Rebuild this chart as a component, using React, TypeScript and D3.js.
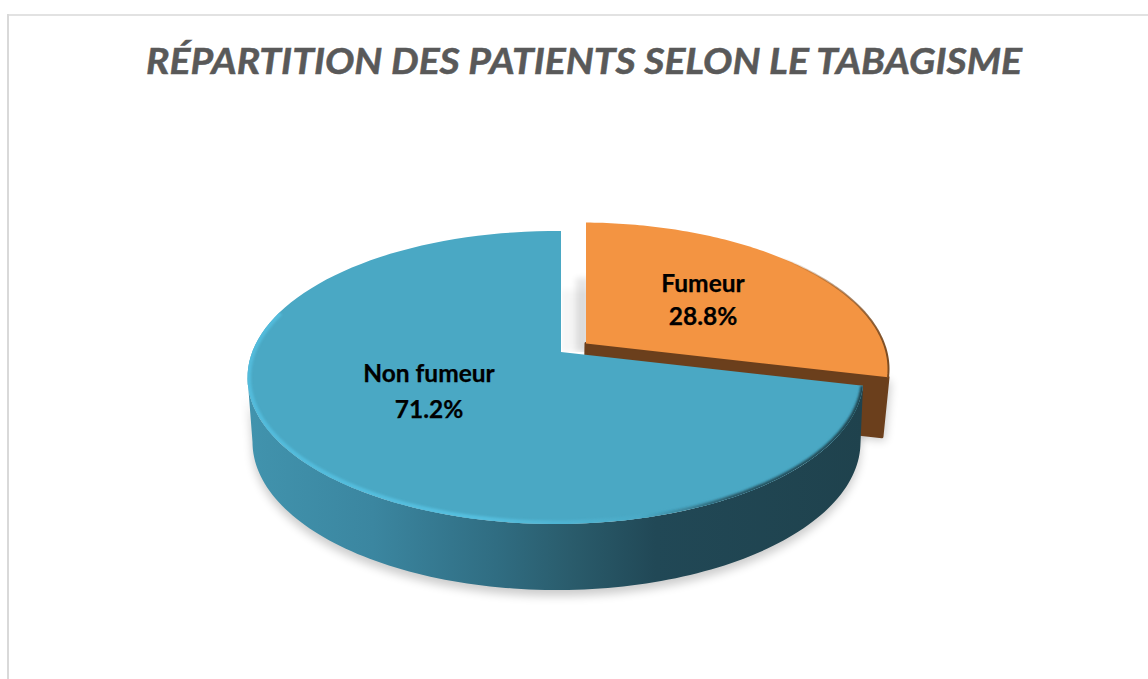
import React from "react";
import * as d3 from "d3";

const categories = ["Fumeur", "Non fumeur"];
const values = [28.8, 71.2];
const titleText = "RÉPARTITION DES PATIENTS SELON LE TABAGISME";
const FONT = "Lato, 'Open Sans', sans-serif";

type Disc = { ax: number; ay: number; cx: number; cy: number; a: number; b: number };
const topDisc: Disc = { ax: 561, ay: 352, cx: 555.5, cy: 377.5, a: 308, b: 146.5 };
const bottomDisc: Disc = { ax: 560, ay: 412, cx: 556.5, cy: 442, a: 304, b: 148 };
const shift = { x: 25, y: -8.5 };
const moved = (d: Disc, ex = 0): Disc => ({ ...d, ax: d.ax + shift.x, ay: d.ay + shift.y, cx: d.cx + shift.x + ex, cy: d.cy + shift.y });

const FLAT = 0.46;
function phiOf(t: number, d: Disc) {
  const dx = Math.sin(t);
  const dy = -Math.cos(t) * FLAT;
  const px = (d.ax - d.cx) / d.a, py = (d.ay - d.cy) / d.b;
  const ux = dx / d.a, uy = dy / d.b;
  const A = ux * ux + uy * uy, B = 2 * (px * ux + py * uy), C = px * px + py * py - 1;
  const s = (-B + Math.sqrt(B * B - 4 * A * C)) / (2 * A);
  const x = px + s * ux, y = py + s * uy;
  let p = Math.atan2(x, -y);
  if (p < -1e-6) p += 2 * Math.PI;
  return p;
}
const at = (phi: number, d: Disc): [number, number] => [d.cx + d.a * Math.sin(phi), d.cy - d.b * Math.cos(phi)];
const rim = (p0: number, p1: number, d: Disc) => d3.range(0, 121).map((i) => at(p0 + ((p1 - p0) * i) / 120, d));
const line = d3.line();

const arcs = d3.pie<number>().sort(null)(values);
const fum = arcs[0];
const non = arcs[1];

// blue slice
const bP0 = phiOf(non.startAngle, topDisc);
const bP1 = phiOf(non.endAngle, topDisc) + 2 * Math.PI;
const blueRim = rim(bP0, bP1, topDisc);
const blueTop = line([[topDisc.ax, topDisc.ay], ...blueRim]) + "Z";
const LEFT = 1.5 * Math.PI;
const bB0 = phiOf(non.startAngle, bottomDisc);
const blueWall = line([...rim(bP0, LEFT, topDisc), ...rim(bB0, LEFT, bottomDisc).reverse()]) + "Z";
const blueEdge = line(blueRim.filter((_, i) => i < 92));

// orange slice
const oT = moved(topDisc), oB = moved(bottomDisc, -3.5);
const oP1 = phiOf(fum.endAngle, oT);
const oStart = phiOf(fum.startAngle, oT);
const orangeTop = line([[oT.ax, oT.ay], ...rim(oStart, oP1, oT)]) + "Z";
const oCorner = at(oP1, oT);
const oCornerB = at(phiOf(fum.endAngle, oB), oB);
const orangeWall = line([[oT.ax, oT.ay], oCorner, oCornerB, [oB.ax, oB.ay]]) + "Z";
const orangeEdge = line(rim(oStart, oP1, oT));

export default function App() {
  return (
    <svg width={1148} height={679} style={{ position: "absolute", left: 0, top: 0, display: "block", background: "#fff" }}>
      <defs>
        <linearGradient id="wall" gradientUnits="userSpaceOnUse" x1={250} x2={865} y1={0} y2={0}>
          <stop offset="0" stopColor="#4193ad" />
          <stop offset="0.2" stopColor="#3b86a0" />
          <stop offset="0.4" stopColor="#306d82" />
          <stop offset="0.52" stopColor="#2a5c6c" />
          <stop offset="0.66" stopColor="#214856" />
          <stop offset="1" stopColor="#1f424d" />
        </linearGradient>
        <linearGradient id="hi" gradientUnits="userSpaceOnUse" x1={250} x2={660} y1={0} y2={0}>
          <stop offset="0" stopColor="#52bbdb" />
          <stop offset="0.55" stopColor="#55bfdf" />
          <stop offset="1" stopColor="#4aa8c4" />
        </linearGradient>
        <linearGradient id="dk" gradientUnits="userSpaceOnUse" x1={640} x2={865} y1={0} y2={0}>
          <stop offset="0" stopColor="#2a5c6c" stopOpacity="0" />
          <stop offset="0.4" stopColor="#1f424d" stopOpacity="0.8" />
          <stop offset="1" stopColor="#1f424d" />
        </linearGradient>
        <linearGradient id="oe" gradientUnits="userSpaceOnUse" x1={780} x2={890} y1={0} y2={0}>
          <stop offset="0" stopColor="#7a4a20" stopOpacity="0" />
          <stop offset="1" stopColor="#7a4a20" />
        </linearGradient>
        <filter id="sh" x="-20%" y="-20%" width="140%" height="140%"><feGaussianBlur stdDeviation="5" /></filter>
        <filter id="gap" x="-100%" y="-30%" width="300%" height="160%"><feGaussianBlur stdDeviation="3" /></filter>
        <filter id="soft" x="-5%" y="-5%" width="110%" height="110%"><feGaussianBlur stdDeviation="1.1" /></filter>
        <clipPath id="blueClip"><path d={blueTop} /></clipPath>
        <clipPath id="gapClip"><rect x={topDisc.ax + 1} y={topDisc.ay - 120} width={shift.x - 1} height={120} /></clipPath>
      </defs>
      <line x1={8} x2={8} y1={14} y2={679} stroke="#d9d9d9" strokeWidth={2} />
      <line x1={7} x2={1148} y1={15} y2={15} stroke="#d9d9d9" strokeWidth={1.5} />
      <text x={584} y={74} textAnchor="middle" fontFamily={FONT} fontWeight={700} fontStyle="italic" fontSize={36} fill="#595959" stroke="#595959" strokeWidth={0.5} textLength={876} lengthAdjust="spacingAndGlyphs">{titleText}</text>

      {/* shadows */}
      <path d={orangeWall} transform="translate(3,4)" fill="#000" opacity={0.2} filter="url(#sh)" />
      <path d={blueWall} transform="translate(0,6)" fill="#000" opacity={0.2} filter="url(#sh)" />
      <g clipPath="url(#gapClip)">
        <rect x={topDisc.ax + 15} y={topDisc.ay - 74} width={14} height={74} fill="#000" opacity={0.1} filter="url(#gap)" />
        <rect x={topDisc.ax} y={topDisc.ay - 62} width={30} height={62} fill="#000" opacity={0.035} filter="url(#gap)" />
      </g>

      {/* orange */}
      <path d={orangeWall} fill="#6b3f1c" stroke="#6b3f1c" strokeWidth={3} strokeLinejoin="round" />
      <path d={orangeTop} fill="#f39442" />
      <path d={orangeEdge ?? ""} fill="none" stroke="url(#oe)" strokeWidth={2} />

      {/* blue */}
      <path d={blueWall} fill="url(#wall)" />
      <path d={blueTop} fill="#4aa8c4" />
      <g clipPath="url(#blueClip)">
        <path d={blueEdge ?? ""} fill="none" stroke="url(#hi)" strokeWidth={7} filter="url(#soft)" />
        <path d={blueEdge ?? ""} fill="none" stroke="url(#dk)" strokeWidth={5} filter="url(#soft)" />
      </g>

      <g fontFamily={FONT} fontWeight={700} fontSize={24.5} fill="#000" stroke="#000" strokeWidth={0.25} textAnchor="middle">
        <text x={703} y={292}>{categories[0]}</text>
        <text x={703} y={325}>{values[0].toFixed(1)}%</text>
        <text x={429} y={382}>{categories[1]}</text>
        <text x={429} y={418}>{values[1].toFixed(1)}%</text>
      </g>
    </svg>
  );
}
